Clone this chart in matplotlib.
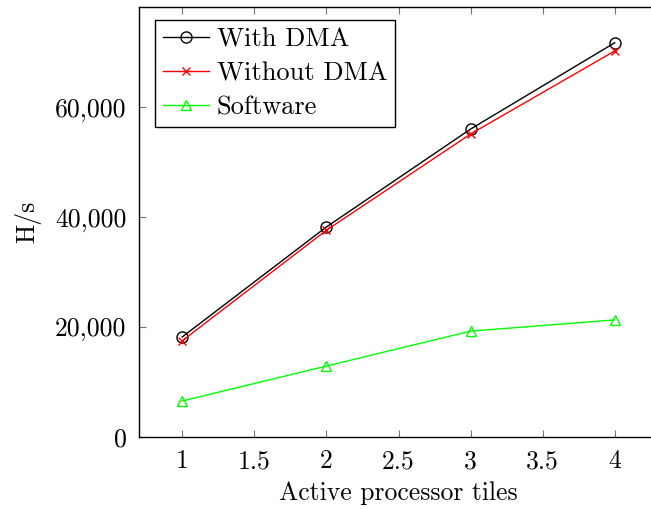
import matplotlib
matplotlib.use("Agg")
import matplotlib.pyplot as plt
from matplotlib.ticker import FixedLocator, FuncFormatter

tiles = [1, 2, 3, 4]
with_dma = [18200, 38200, 56000, 71700]
without_dma = [17500, 37600, 55100, 70200]
software = [6550, 12900, 19250, 21300]

xticks = [1, 1.5, 2, 2.5, 3, 3.5, 4]
yticks = [0, 20000, 40000, 60000]

plt.rcParams['font.family'] = ['cmr10', 'DejaVu Serif']
plt.rcParams['mathtext.fontset'] = 'cm'
plt.rcParams['axes.formatter.use_mathtext'] = True

fs = 18.5
fig = plt.figure(figsize=(6.51, 5.09), dpi=100)
ax = fig.add_axes([139/651, 1-437/509, 519/651, 430/509])

ax.plot(tiles, with_dma, color='black', lw=1.0, marker='o', ms=8, mfc='none', mec='black', mew=1.0, label='With DMA')
ax.plot(tiles, without_dma, color='red', lw=1.0, marker='x', ms=6, mec='red', mew=1.0, label='Without DMA')
ax.plot(tiles, software, color=(0, 1, 0), lw=1.0, marker='^', ms=7, mfc='none', mec=(0, 1, 0), mew=1.0, label='Software')

ax.set_xlim(0.7, 4.3)
ax.set_ylim(0, 78200)
ax.xaxis.set_major_locator(FixedLocator(xticks))
ax.yaxis.set_major_locator(FixedLocator(yticks))
ax.xaxis.set_major_formatter(FuncFormatter(lambda v, p: ('%g' % v)))
ax.yaxis.set_major_formatter(FuncFormatter(lambda v, p: '{:,.0f}'.format(v)))
ax.tick_params(direction='in', length=5, width=0.8, color='0.45', labelsize=fs,
               top=True, right=True)
ax.tick_params(axis='y', pad=9)
ax.tick_params(axis='x', pad=9)
for s in ax.spines.values():
    s.set_linewidth(1.0)

ax.set_xlabel('Active processor tiles', fontsize=fs, labelpad=6)
ax.set_ylabel('H/s', fontsize=fs, labelpad=10)

leg = ax.legend(loc='upper left', bbox_to_anchor=(0.031, 0.97), borderaxespad=0,
                fontsize=19, frameon=True, fancybox=False, framealpha=1,
                edgecolor='black', handlelength=1.75, handletextpad=0.28,
                labelspacing=0.38, borderpad=0.3)
leg.get_frame().set_linewidth(1.0)

fig.savefig('out.png', dpi=100)
